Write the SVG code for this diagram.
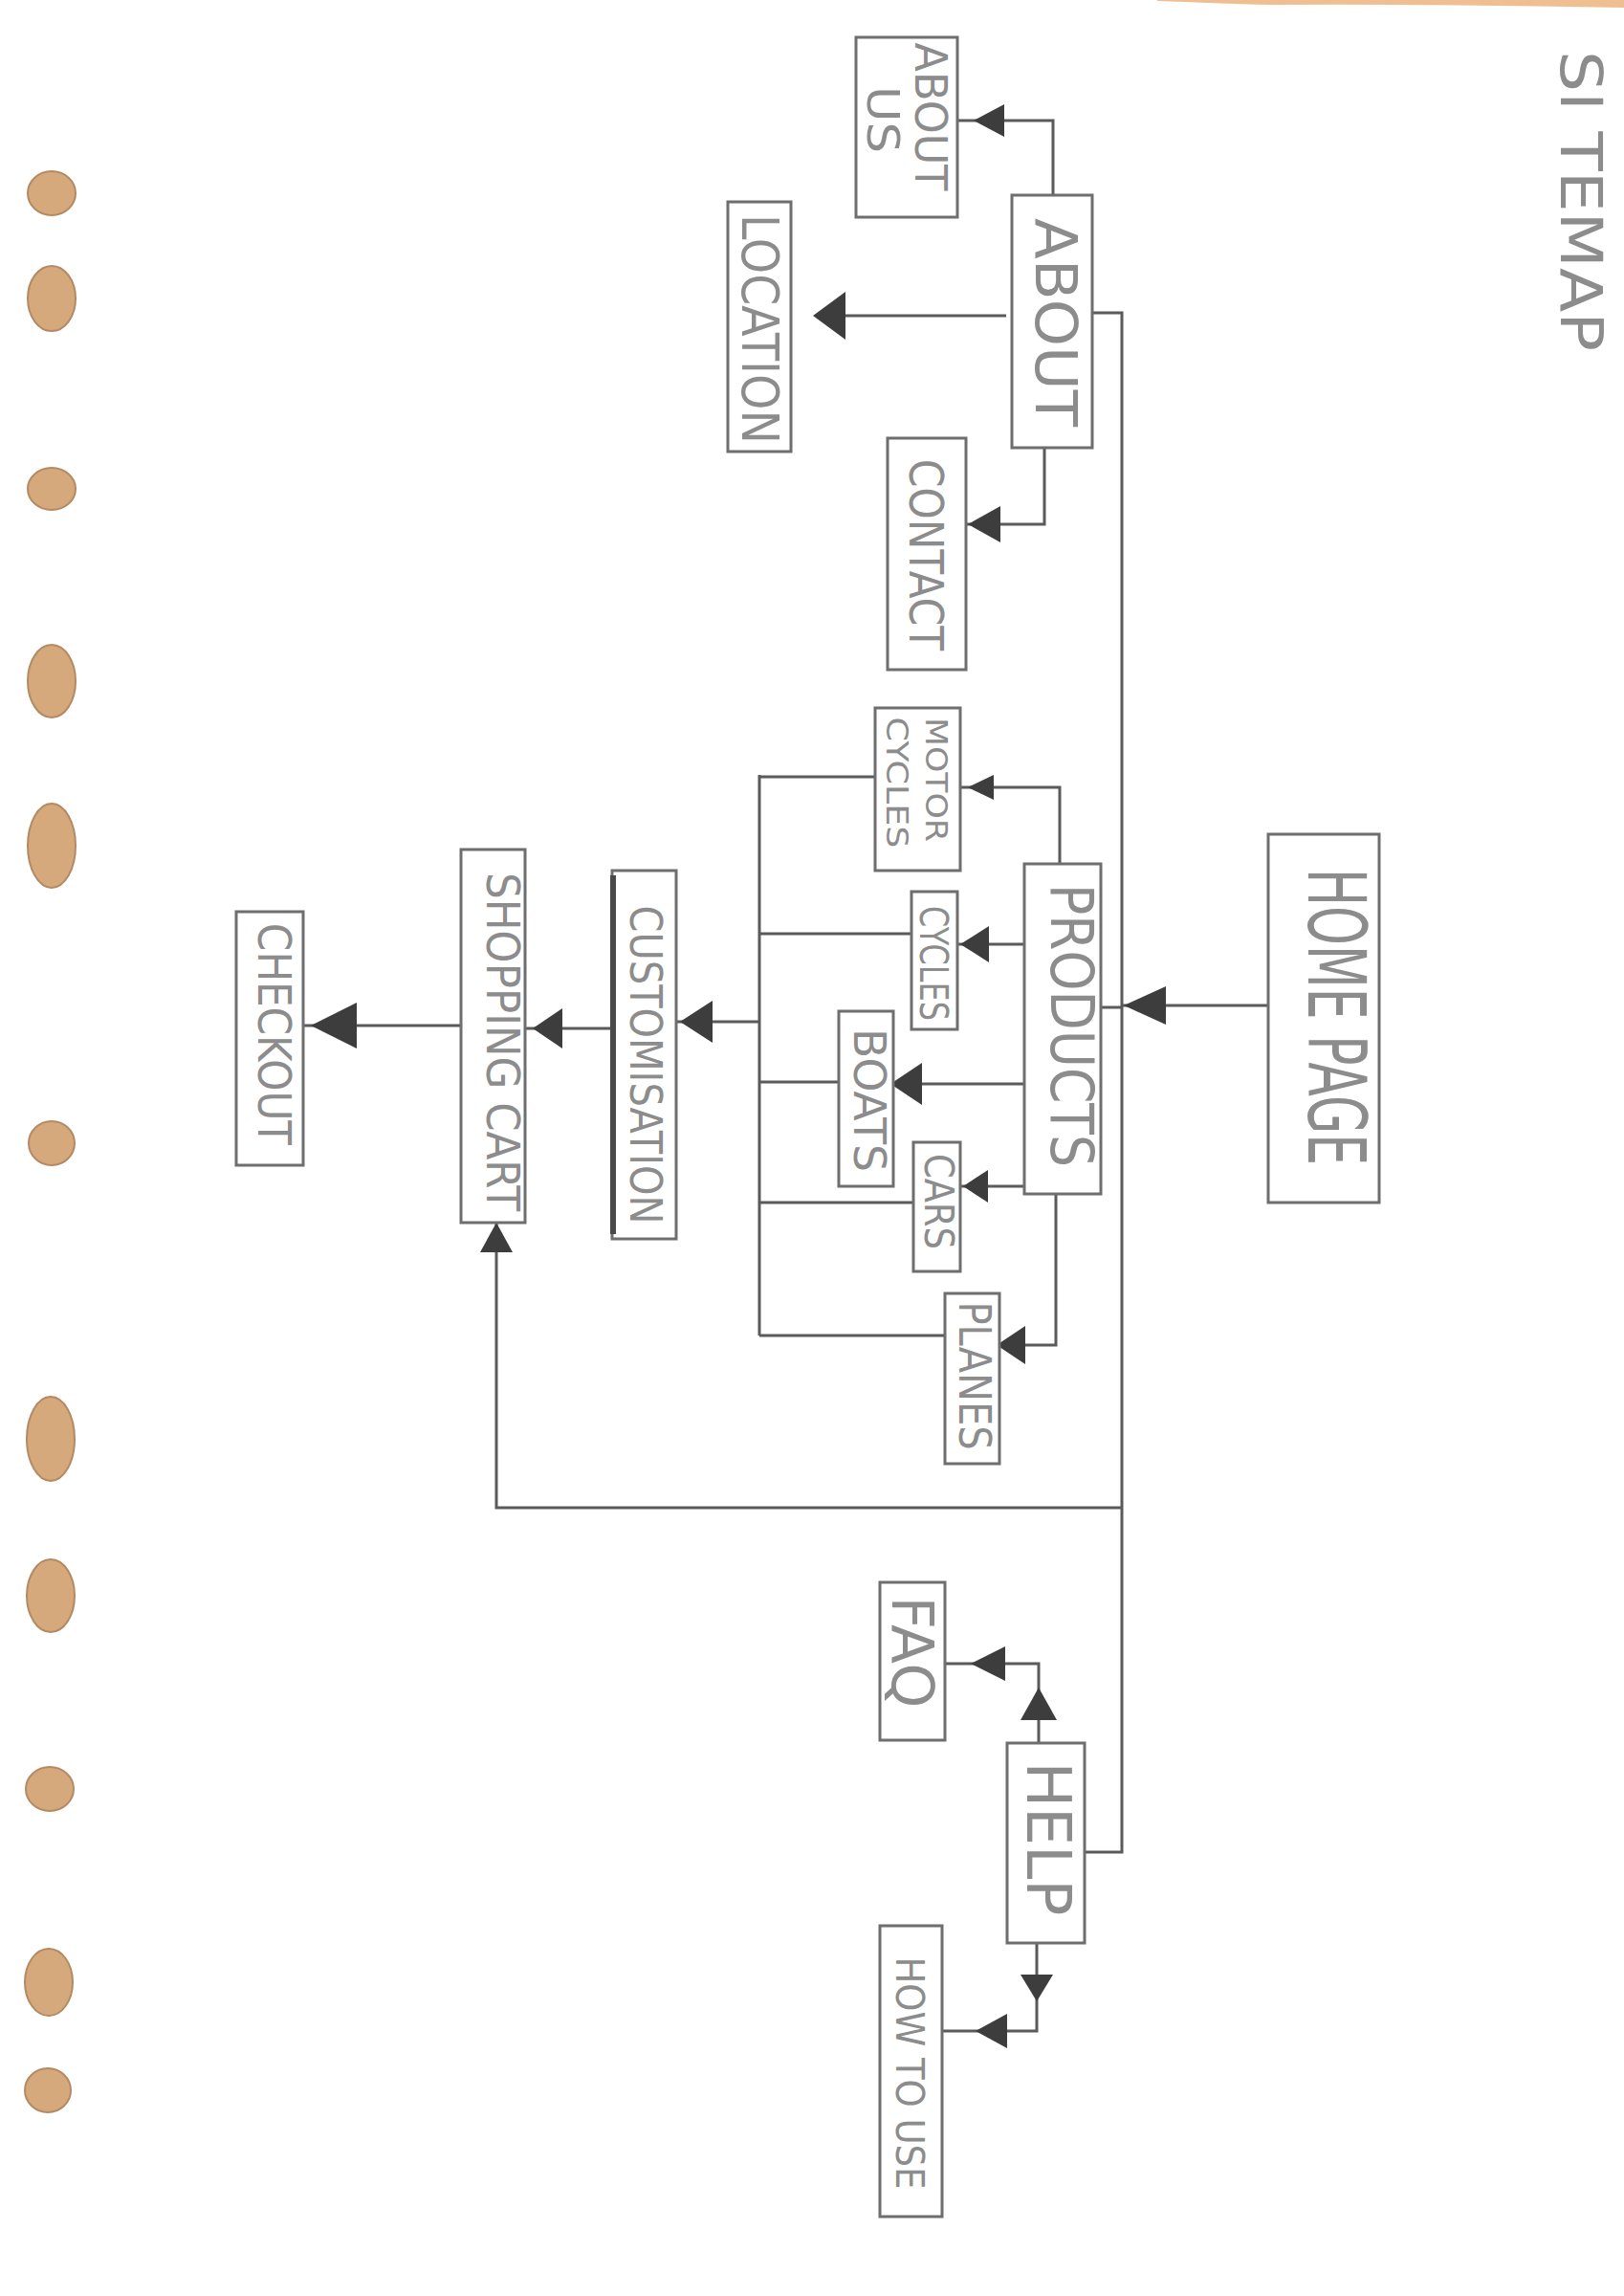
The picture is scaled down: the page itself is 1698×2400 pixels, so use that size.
<svg xmlns="http://www.w3.org/2000/svg" xmlns:xlink="http://www.w3.org/1999/xlink" width="1698" height="2400" viewBox="0 0 1698 2400">
<style>
.box{fill:#ffffff;stroke:#6e6e6e;stroke-width:3}
.ln{fill:none;stroke:#5a5a5a;stroke-width:3;stroke-linejoin:miter}
.ah{fill:#3d3d3d;stroke:none}
.t{font-family:"DejaVu Sans","Liberation Sans",sans-serif;fill:#8c8c8c;text-anchor:middle;dominant-baseline:central}
.hole{fill:#d6a97c;stroke:#b38a63;stroke-width:2}
</style>
<defs>
<path id="ah" d="M0,0 L-1,-0.5 L-1,0.5 Z"/>
</defs>
<rect x="0" y="0" width="1698" height="2400" fill="#ffffff"/>
<path d="M1210,0 H1698 V8 Q1500,4 1330,5 Q1260,3 1210,1 Z" fill="#efbf92"/>
<g id="holes">
<ellipse class="hole" cx="54" cy="202" rx="25" ry="23"/>
<ellipse class="hole" cx="54" cy="312" rx="25" ry="34"/>
<ellipse class="hole" cx="54" cy="511" rx="25" ry="22"/>
<ellipse class="hole" cx="54" cy="712" rx="25" ry="38"/>
<ellipse class="hole" cx="54" cy="884" rx="25" ry="44"/>
<ellipse class="hole" cx="54" cy="1195" rx="24" ry="23"/>
<ellipse class="hole" cx="53" cy="1504" rx="25" ry="44"/>
<ellipse class="hole" cx="53" cy="1668" rx="25" ry="38"/>
<ellipse class="hole" cx="52" cy="1870" rx="25" ry="23"/>
<ellipse class="hole" cx="51" cy="2072" rx="25" ry="35"/>
<ellipse class="hole" cx="50" cy="2185" rx="24" ry="23"/>
</g>
<g id="title">
<text class="t" transform="translate(1653,210) rotate(90)" font-size="60" textLength="314" lengthAdjust="spacingAndGlyphs">SI TEMAP</text>
</g>
<g id="connectors">
<path class="ln" d="M1142,327 H1173 V1936 H1134"/>
<path class="ln" d="M1326,1051 H1174"/>
<path class="ln" d="M1151,1053 H1174"/>
<path class="ln" d="M1101,204 V126 H1001"/>
<path class="ln" d="M1052,330 H860"/>
<path class="ln" d="M1092,468 V548 H1010"/>
<path class="ln" d="M1108,903 V823 H1004"/>
<path class="ln" d="M1071,987 H1001"/>
<path class="ln" d="M1071,1133 H934" stroke-width="4"/>
<path class="ln" d="M1071,1240 H1004"/>
<path class="ln" d="M1104,1248 V1406 H1045"/>
<path class="ln" d="M915,812 H794"/>
<path class="ln" d="M953,976 H794"/>
<path class="ln" d="M877,1131 H794"/>
<path class="ln" d="M955,1257 H794"/>
<path class="ln" d="M988,1396 H794"/>
<path class="ln" d="M794,810 V1396"/>
<path class="ln" d="M794,1068 H707"/>
<path class="ln" d="M640,1075 H549" stroke-width="4"/>
<path class="ln" d="M482,1072 H317" stroke-width="4"/>
<path class="ln" d="M1173,1576 H519 V1278"/>
<path class="ln" d="M1086,1822 V1739 H988"/>
<path class="ln" d="M1084,2031 V2123 H985"/>
<use xlink:href="#ah" class="ah" transform="translate(1175,1051) rotate(180) scale(44,40)"/>
<use xlink:href="#ah" class="ah" transform="translate(1018,126) rotate(180) scale(32,34)"/>
<use xlink:href="#ah" class="ah" transform="translate(850,330) rotate(180) scale(34,50)"/>
<use xlink:href="#ah" class="ah" transform="translate(1012,548) rotate(180) scale(34,38)"/>
<use xlink:href="#ah" class="ah" transform="translate(1012,823) rotate(180) scale(27,26)"/>
<use xlink:href="#ah" class="ah" transform="translate(1004,987) rotate(180) scale(30,38)"/>
<use xlink:href="#ah" class="ah" transform="translate(931,1133) rotate(180) scale(33,44)"/>
<use xlink:href="#ah" class="ah" transform="translate(1007,1240) rotate(180) scale(26,34)"/>
<use xlink:href="#ah" class="ah" transform="translate(1042,1406) rotate(180) scale(30,40)"/>
<use xlink:href="#ah" class="ah" transform="translate(711,1068) rotate(180) scale(34,44)"/>
<use xlink:href="#ah" class="ah" transform="translate(557,1075) rotate(180) scale(31,42)"/>
<use xlink:href="#ah" class="ah" transform="translate(325,1072) rotate(180) scale(48,48)"/>
<use xlink:href="#ah" class="ah" transform="translate(519,1278) rotate(-90) scale(31,34)"/>
<use xlink:href="#ah" class="ah" transform="translate(1086,1764) rotate(-90) scale(34,38)"/>
<use xlink:href="#ah" class="ah" transform="translate(1015,1739) rotate(180) scale(36,36)"/>
<use xlink:href="#ah" class="ah" transform="translate(1084,2092) rotate(90) scale(28,34)"/>
<use xlink:href="#ah" class="ah" transform="translate(1020,2123) rotate(180) scale(33,36)"/>
</g>
<g id="home-page">
<rect class="box" x="1326" y="872" width="116" height="385"/>
<text class="t" transform="translate(1397,1063) rotate(90)" font-size="84" textLength="310" lengthAdjust="spacingAndGlyphs">HOME PAGE</text>
</g>
<g id="about">
<rect class="box" x="1058" y="204" width="84" height="264"/>
<text class="t" transform="translate(1104,337) rotate(90)" font-size="60" textLength="218" lengthAdjust="spacingAndGlyphs" fill="#6a6a6a">ABOUT</text>
</g>
<g id="about-us">
<rect class="box" x="895" y="39" width="106" height="188"/>
<text class="t" transform="translate(973,122) rotate(90)" font-size="46" textLength="155" lengthAdjust="spacingAndGlyphs">ABOUT</text>
<text class="t" transform="translate(923,125) rotate(90)" font-size="46" textLength="70" lengthAdjust="spacingAndGlyphs">US</text>
</g>
<g id="location">
<rect class="box" x="761" y="211" width="66" height="261"/>
<text class="t" transform="translate(794,344) rotate(90)" font-size="54" textLength="240" lengthAdjust="spacingAndGlyphs">LOCATION</text>
</g>
<g id="contact">
<rect class="box" x="928" y="458" width="82" height="242"/>
<text class="t" transform="translate(968,580) rotate(90)" font-size="50" textLength="200" lengthAdjust="spacingAndGlyphs">CONTACT</text>
</g>
<g id="products">
<rect class="box" x="1071" y="903" width="80" height="345"/>
<text class="t" transform="translate(1120,1072) rotate(90)" font-size="62" textLength="296" lengthAdjust="spacingAndGlyphs">PRODUCTS</text>
</g>
<g id="motor-cycles">
<rect class="box" x="915" y="740" width="89" height="170"/>
<text class="t" transform="translate(979,815) rotate(90)" font-size="32" textLength="130" lengthAdjust="spacingAndGlyphs">MOTOR</text>
<text class="t" transform="translate(938,818) rotate(90)" font-size="32" textLength="137" lengthAdjust="spacingAndGlyphs">CYCLES</text>
</g>
<g id="cycles">
<rect class="box" x="953" y="932" width="48" height="144"/>
<text class="t" transform="translate(976,1007) rotate(90)" font-size="40" textLength="120" lengthAdjust="spacingAndGlyphs">CYCLES</text>
</g>
<g id="boats">
<rect class="box" x="877" y="1057" width="57" height="183"/>
<text class="t" transform="translate(909,1150) rotate(90)" font-size="46" textLength="150" lengthAdjust="spacingAndGlyphs">BOATS</text>
</g>
<g id="cars">
<rect class="box" x="955" y="1194" width="49" height="135"/>
<text class="t" transform="translate(981,1256) rotate(90)" font-size="42" textLength="100" lengthAdjust="spacingAndGlyphs">CARS</text>
</g>
<g id="planes">
<rect class="box" x="988" y="1352" width="57" height="178"/>
<text class="t" transform="translate(1019,1438) rotate(90)" font-size="46" textLength="155" lengthAdjust="spacingAndGlyphs">PLANES</text>
</g>
<g id="customisation">
<rect class="box" x="640" y="910" width="67" height="385"/>
<line x1="641" y1="915" x2="641" y2="1290" stroke="#4a4a4a" stroke-width="6"/>
<text class="t" transform="translate(675,1113) rotate(90)" font-size="46" textLength="333" lengthAdjust="spacingAndGlyphs">CUSTOMISATION</text>
</g>
<g id="shopping-cart">
<rect class="box" x="482" y="888" width="67" height="390"/>
<text class="t" transform="translate(526,1089) rotate(90)" font-size="48" textLength="354" lengthAdjust="spacingAndGlyphs">SHOPPING CART</text>
</g>
<g id="checkout">
<rect class="box" x="247" y="953" width="70" height="265"/>
<text class="t" transform="translate(287,1081) rotate(90)" font-size="48" textLength="232" lengthAdjust="spacingAndGlyphs">CHECKOUT</text>
</g>
<g id="help">
<rect class="box" x="1053" y="1822" width="81" height="209"/>
<text class="t" transform="translate(1096,1922) rotate(90)" font-size="64" textLength="161" lengthAdjust="spacingAndGlyphs">HELP</text>
</g>
<g id="faq">
<rect class="box" x="920" y="1654" width="68" height="165"/>
<text class="t" transform="translate(954,1727) rotate(90)" font-size="60" textLength="117" lengthAdjust="spacing">FAQ</text>
</g>
<g id="how-to-use">
<rect class="box" x="920" y="2013" width="65" height="304"/>
<text class="t" transform="translate(951,2167) rotate(90)" font-size="40" textLength="243" lengthAdjust="spacingAndGlyphs">HOW TO USE</text>
</g>
</svg>
